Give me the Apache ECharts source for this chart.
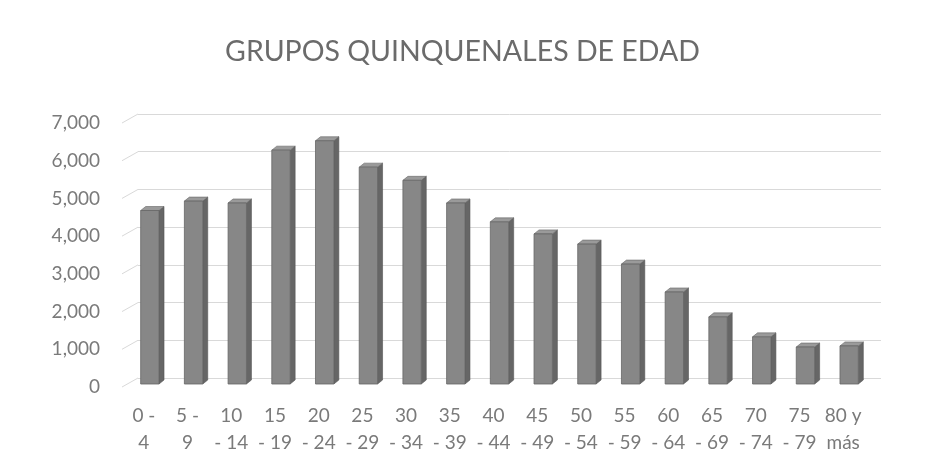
<!DOCTYPE html>
<html>
<head>
<meta charset="utf-8">
<title>Grupos quinquenales de edad</title>
<script src="https://cdn.jsdelivr.net/npm/echarts@6/dist/echarts.min.js"></script>
<style>
  html, body { margin: 0; padding: 0; background: #fff; }
  #main { width: 925px; height: 475px; }
</style>
</head>
<body>
<div id="main"></div>
<script>
// datos
var grupos = ['0 -\n4', '5 -\n9', '10\n- 14', '15\n- 19', '20\n- 24', '25\n- 29', '30\n- 34', '35\n- 39',
              '40\n- 44', '45\n- 49', '50\n- 54', '55\n- 59', '60\n- 64', '65\n- 69', '70\n- 74', '75\n- 79', '80 y\nmás'];
var poblacion = [4600, 4850, 4800, 6200, 6450, 5750, 5400, 4800, 4300, 3980, 3710, 3180, 2440, 1780, 1250, 980, 1010];
var marcasY = [0, 1000, 2000, 3000, 4000, 5000, 6000, 7000];

// profundidad del efecto 3D (pared del fondo y barras)
var FONDO_X = 16, FONDO_Y = 9;
var PROF_X = 5, PROF_Y = 4;
var MEDIO_X = 6, MEDIO_Y = -3;

var chart = echarts.init(document.getElementById('main'));

function barra3d(params, api) {
    var i = api.value(0);
    var base = api.coord([i, 0]);
    var tope = api.coord([i, api.value(1)]);
    var ancho = api.size([1, 0])[0] * 0.42;
    var x0 = base[0] + MEDIO_X - ancho / 2, x1 = x0 + ancho;
    var yb = base[1] + MEDIO_Y, yt = tope[1] + MEDIO_Y;
    return {
        type: 'group',
        children: [
            { type: 'polygon', shape: { points: [[x1, yt], [x1 + PROF_X, yt - PROF_Y], [x1 + PROF_X, yb - PROF_Y], [x1, yb]] },
              style: { fill: '#666666', stroke: '#555555', lineWidth: 0.6 } },
            { type: 'polygon', shape: { points: [[x0, yt], [x0 + PROF_X, yt - PROF_Y], [x1 + PROF_X, yt - PROF_Y], [x1, yt]] },
              style: { fill: '#9a9a9a', stroke: '#666666', lineWidth: 0.6 } },
            { type: 'rect', shape: { x: x0, y: yt, width: ancho, height: yb - yt },
              style: { fill: '#878787', stroke: '#666666', lineWidth: 0.8 } }
        ]
    };
}

function pared(params, api) {
    // tramo inclinado de la pared lateral
    var p = api.coord([0, api.value(0)]);
    var x = p[0] - api.size([1, 0])[0] / 2;
    return { type: 'line', shape: { x1: x, y1: p[1], x2: x + FONDO_X, y2: p[1] - FONDO_Y },
             style: { stroke: '#d9d9d9', lineWidth: 1 } };
}

var option = {
    backgroundColor: '#ffffff',
    animation: false,
    title: {
        text: 'GRUPOS QUINQUENALES DE EDAD',
        left: 'center',
        top: 32,
        textStyle: { fontFamily: 'Lato', fontSize: 28.5, fontWeight: 'normal', color: '#6b6b6b' }
    },
    grid: [
        { left: 122, right: 60, top: 123, bottom: 88 },
        { left: 122 + FONDO_X, right: 60 - FONDO_X, top: 123 - FONDO_Y, bottom: 88 + FONDO_Y }
    ],
    xAxis: [
        { type: 'category', gridIndex: 0, data: grupos,
          axisLine: { show: false }, axisTick: { show: false },
          axisLabel: { interval: 0, margin: 15, lineHeight: 27, fontFamily: 'Lato', fontSize: 19, color: '#7a7a7a' } },
        { type: 'category', gridIndex: 1, data: grupos, show: false }
    ],
    yAxis: [
        { type: 'value', gridIndex: 0, min: 0, max: 7000, interval: 1000,
          axisLine: { show: false }, axisTick: { show: false }, splitLine: { show: false },
          axisLabel: { margin: 22, fontFamily: 'Lato', fontSize: 19, color: '#7a7a7a',
                       formatter: function (v) { return v.toLocaleString('en-US'); } } },
        { type: 'value', gridIndex: 1, min: 0, max: 7000, interval: 1000,
          axisLine: { show: false }, axisTick: { show: false }, axisLabel: { show: false },
          splitLine: { lineStyle: { color: '#d9d9d9', width: 1 } } }
    ],
    series: [
        { type: 'custom', xAxisIndex: 0, yAxisIndex: 0, renderItem: pared,
          data: marcasY.map(function (v) { return [v]; }), silent: true },
        { type: 'custom', xAxisIndex: 0, yAxisIndex: 0, renderItem: barra3d,
          data: poblacion.map(function (v, i) { return [i, v]; }), z: 5 }
    ]
};
chart.setOption(option);
</script>
</body>
</html>
